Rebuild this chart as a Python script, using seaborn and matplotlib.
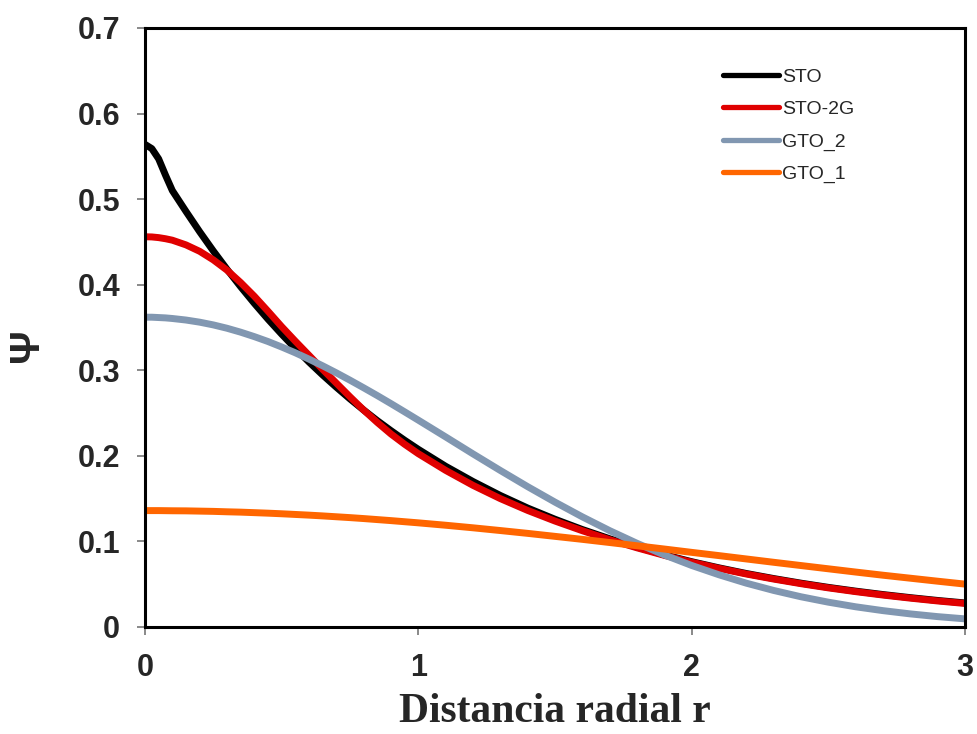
"""
Radial wavefunction of the hydrogen 1s orbital: STO vs Gaussian fits.
"""
import numpy as np
import pandas as pd
import matplotlib
matplotlib.use('Agg')
import matplotlib.pyplot as plt
import seaborn as sns

# radial distance (shared grid, finer near the nucleus)
R = [0.0, 0.025, 0.05, 0.075, 0.1, 0.15, 0.2, 0.25, 0.3, 0.35, 0.4, 0.45, 0.5,
     0.55, 0.6, 0.65, 0.7, 0.75, 0.8, 0.85, 0.9, 0.95, 1.0,
     1.1, 1.2, 1.3, 1.4, 1.5, 1.6, 1.7, 1.8, 1.9, 2.0,
     2.1, 2.2, 2.3, 2.4, 2.5, 2.6, 2.7, 2.8, 2.9, 3.0]

STO = [0.564, 0.559, 0.547, 0.528, 0.510, 0.4856, 0.4619, 0.4394, 0.418, 0.3976, 0.3782, 0.3597, 0.3422,
       0.3255, 0.3096, 0.2945, 0.2802, 0.2665, 0.2535, 0.2411, 0.2294, 0.2182, 0.2076,
       0.1878, 0.170, 0.1537, 0.139, 0.1259, 0.1139, 0.1031, 0.0933, 0.0844, 0.0763,
       0.0691, 0.0625, 0.0566, 0.0512, 0.0463, 0.0419, 0.0379, 0.0343, 0.031, 0.0281]

STO_2G = [0.456, 0.4558, 0.455, 0.4537, 0.452, 0.4465, 0.439, 0.429, 0.417, 0.4025, 0.3865, 0.369, 0.351,
          0.334, 0.3175, 0.301, 0.285, 0.269, 0.2535, 0.239, 0.2255, 0.2135, 0.2025,
          0.183, 0.1655, 0.150, 0.1362, 0.1238, 0.1125, 0.102, 0.0925, 0.0837, 0.0757,
          0.0685, 0.0619, 0.056, 0.0506, 0.0457, 0.0413, 0.0373, 0.0337, 0.0304, 0.0275]

GTO_2 = [0.362, 0.362, 0.3616, 0.3612, 0.3605, 0.3587, 0.3562, 0.353, 0.3491, 0.3445, 0.3393, 0.3336, 0.3272,
         0.3204, 0.313, 0.3052, 0.297, 0.2884, 0.2795, 0.2704, 0.261, 0.2514, 0.2417,
         0.2221, 0.2023, 0.1829, 0.164, 0.1459, 0.1287, 0.1126, 0.0978, 0.0842, 0.0719,
         0.061, 0.0512, 0.0427, 0.0353, 0.029, 0.0236, 0.0191, 0.0153, 0.0121, 0.0095]

GTO_1 = [0.136, 0.136, 0.136, 0.1359, 0.1358, 0.1357, 0.1354, 0.1351, 0.1346, 0.1342, 0.1336, 0.133, 0.1323,
         0.1315, 0.1307, 0.1298, 0.1288, 0.1278, 0.1267, 0.1255, 0.1243, 0.123, 0.1217,
         0.1189, 0.1159, 0.1127, 0.1094, 0.1059, 0.1024, 0.0987, 0.0949, 0.0911, 0.0872,
         0.0834, 0.0795, 0.0756, 0.0718, 0.068, 0.0642, 0.0605, 0.057, 0.0535, 0.0501]

SERIES = ['STO', 'STO-2G', 'GTO_2', 'GTO_1']
COLORS = ['#000000', '#E00000', '#8197B1', '#FF6600']

X_TICKS = [0, 1, 2, 3]
X_TICK_LABELS = ['0', '1', '2', '3']
Y_TICKS = [0.0, 0.1, 0.2, 0.3, 0.4, 0.5, 0.6, 0.7]
Y_TICK_LABELS = ['0', '0.1', '0.2', '0.3', '0.4', '0.5', '0.6', '0.7']

sns.set_style('white')
plt.rcParams['font.family'] = ['Liberation Sans', 'DejaVu Sans']

fig = plt.figure(figsize=(9.77, 7.34), dpi=100)
ax = fig.add_axes([0.1484, 0.1458, 0.8393, 0.8161])

for name, vals, col in zip(SERIES, [STO, STO_2G, GTO_2, GTO_1], COLORS):
    df = pd.DataFrame({'r': R, 'psi': vals})
    sns.lineplot(data=df, x='r', y='psi', color=col, linewidth=5,
                 label=name, ax=ax, solid_capstyle='butt', solid_joinstyle='round')

ax.set_xlim(0, 3)
ax.set_ylim(0, 0.7)
ax.set_xticks(X_TICKS)
ax.set_xticklabels(X_TICK_LABELS)
ax.set_yticks(Y_TICKS)
ax.set_yticklabels(Y_TICK_LABELS)

for s in ax.spines.values():
    s.set_color('black')
    s.set_linewidth(2.2)

ax.tick_params(axis='both', direction='out', length=6, width=1.3, color='#808080',
               labelsize=22)
ax.tick_params(axis='x', bottom=True, pad=13)
ax.tick_params(axis='y', left=True, pad=12)
for lbl in ax.get_xticklabels() + ax.get_yticklabels():
    lbl.set_fontweight('bold')

ax.set_xlabel('Distancia radial r', fontsize=30, fontweight='bold',
              family=['Liberation Serif', 'DejaVu Serif'], labelpad=7)
ax.set_ylabel('Ψ', fontsize=30, fontweight='bold', rotation=90)
ax.yaxis.set_label_coords(-0.12, 0.47)

leg = ax.legend(loc='upper left', bbox_to_anchor=(723 / 977, 1 - 68 / 734),
                bbox_transform=fig.transFigure, frameon=False, fontsize=14,
                handlelength=2.9, handletextpad=0.15, labelspacing=0.76,
                borderpad=0, borderaxespad=0)
for h in leg.get_lines():
    h.set_linewidth(3.8)
    h.set_solid_capstyle('round')

plt.savefig('out.png', dpi=100)
plt.close()
